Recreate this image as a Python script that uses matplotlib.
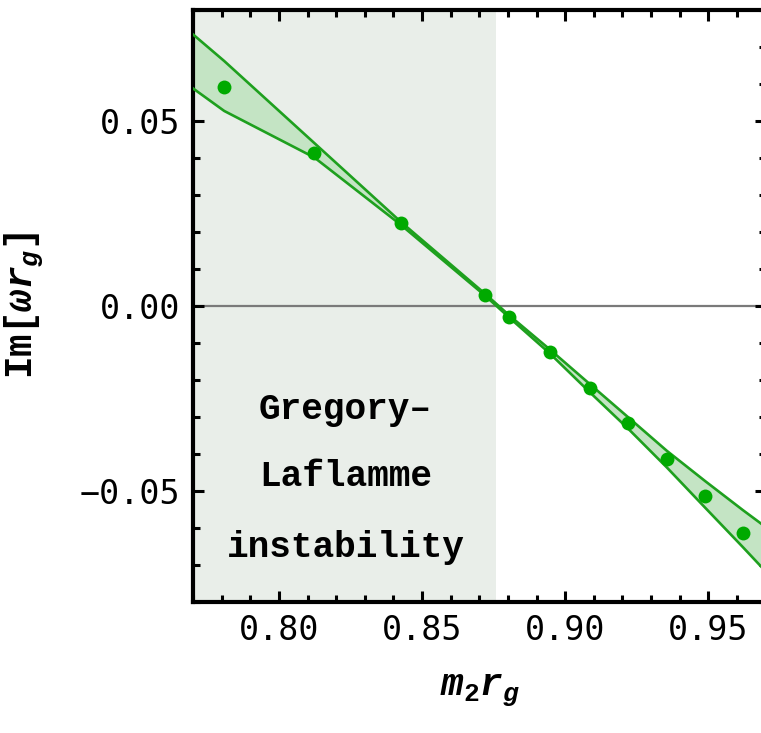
import numpy as np
import matplotlib
matplotlib.use("Agg")
import matplotlib.pyplot as plt
from matplotlib.ticker import MultipleLocator

# --- data ---
m2rg = [0.7809, 0.8124, 0.8426, 0.8721, 0.8805, 0.8948, 0.9085, 0.9221, 0.9355, 0.9489, 0.9620]
im_omega = [0.0593, 0.0412, 0.0223, 0.0029, -0.0029, -0.0124, -0.0221, -0.0317, -0.0414, -0.0514, -0.0614]

# band edges (upper / lower curves), incl. both plot edges
band_x = [0.770, 0.7809, 0.8124, 0.8426, 0.8721, 0.8805, 0.8948, 0.9085, 0.9221, 0.9355, 0.9489, 0.9620, 0.970]
band_hi = [0.0734, 0.0662, 0.0440, 0.0227, 0.0032, -0.0026, -0.0119, -0.0211, -0.0302, -0.0392, -0.0474, -0.0552, -0.0598]
band_lo = [0.0588, 0.0527, 0.0401, 0.0219, 0.0027, -0.0032, -0.0130, -0.0233, -0.0333, -0.0437, -0.0546, -0.0652, -0.0718]

gl_edge = 0.876   # end of the Gregory-Laflamme unstable region
xlim = (0.77, 0.97)
ylim = (-0.08, 0.08)

plt.rcParams['mathtext.fontset'] = 'custom'
plt.rcParams['mathtext.rm'] = 'Liberation Mono:bold'
plt.rcParams['mathtext.it'] = 'Liberation Mono:italic:bold'
plt.rcParams['mathtext.bf'] = 'Liberation Mono:bold'

fig = plt.figure(figsize=(7.61, 7.33), dpi=100)
ax = fig.add_axes([0.2536, 0.1791, 0.7525, 0.8073])

ax.axvspan(xlim[0], gl_edge, color='#e9eee9', lw=0, zorder=0)
ax.axhline(0, color='#7a7a7a', lw=1.6, zorder=1)

green = '#1ea01e'
ax.fill_between(band_x, band_lo, band_hi, color='#c4e4c4', lw=0, zorder=2)
ax.plot(band_x, band_hi, color=green, lw=1.9, zorder=3)
ax.plot(band_x, band_lo, color=green, lw=1.9, zorder=3)
ax.plot(m2rg, im_omega, 'o', color='#00aa00', ms=10, mec='none', zorder=4)

txt = dict(family='Liberation Mono', weight='bold', fontsize=26, ha='center', va='baseline')
ax.text(0.8233, -0.0306, 'Gregory\u2013', **txt)
ax.text(0.8233, -0.0486, 'Laflamme', **txt)
ax.text(0.8233, -0.0680, 'instability', **txt)

ax.set_xlim(*xlim)
ax.set_ylim(*ylim)
ax.xaxis.set_major_locator(MultipleLocator(0.05))
ax.xaxis.set_minor_locator(MultipleLocator(0.01))
ax.yaxis.set_major_locator(MultipleLocator(0.05))
ax.yaxis.set_minor_locator(MultipleLocator(0.01))
ax.xaxis.set_major_formatter(lambda v, p: f'{v:.2f}')
ax.yaxis.set_major_formatter(lambda v, p: f'{v:.2f}'.replace('-', '\u2212'))

ax.tick_params(which='both', direction='in', top=True, right=True, width=2.2)
ax.tick_params(which='major', length=8, pad=9)
ax.tick_params(which='minor', length=5)
for lab in ax.get_xticklabels() + ax.get_yticklabels():
    lab.set_family('DejaVu Sans Mono')
    lab.set_fontsize(24)
for s in ax.spines.values():
    s.set_linewidth(3)

ax.set_xlabel(r'$m_2r_g$', fontsize=27)
ax.set_ylabel(r'Im$[\omega r_g]$', family='Liberation Mono', weight='bold', fontsize=27)
ax.xaxis.set_label_coords(0.501, -0.118)
ax.yaxis.set_label_coords(-0.258, 0.501)

fig.savefig('out.png', dpi=100)
